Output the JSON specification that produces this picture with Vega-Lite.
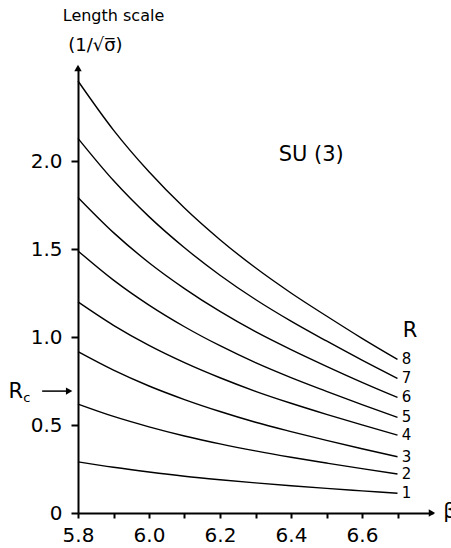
{
  "$schema": "https://vega.github.io/schema/vega-lite/v6.json",
  "width": 355,
  "height": 445,
  "autosize": "none",
  "padding": {"left": 78, "top": 68, "right": 18, "bottom": 35},
  "background": "white",
  "config": {"view": {"stroke": null}, "font": "DejaVu Sans"},
  "datasets": {
    "curves": [
      {"R": 8, "beta": 5.8, "L": 2.456}, {"R": 8, "beta": 5.9, "L": 2.177}, {"R": 8, "beta": 6.0, "L": 1.94}, {"R": 8, "beta": 6.1, "L": 1.734}, {"R": 8, "beta": 6.2, "L": 1.554}, {"R": 8, "beta": 6.3, "L": 1.394}, {"R": 8, "beta": 6.4, "L": 1.251}, {"R": 8, "beta": 6.5, "L": 1.12}, {"R": 8, "beta": 6.6, "L": 0.993}, {"R": 8, "beta": 6.7, "L": 0.873},
      {"R": 7, "beta": 5.8, "L": 2.13}, {"R": 7, "beta": 5.9, "L": 1.89}, {"R": 7, "beta": 6.0, "L": 1.685}, {"R": 7, "beta": 6.1, "L": 1.508}, {"R": 7, "beta": 6.2, "L": 1.352}, {"R": 7, "beta": 6.3, "L": 1.214}, {"R": 7, "beta": 6.4, "L": 1.091}, {"R": 7, "beta": 6.5, "L": 0.978}, {"R": 7, "beta": 6.6, "L": 0.869}, {"R": 7, "beta": 6.7, "L": 0.765},
      {"R": 6, "beta": 5.8, "L": 1.794}, {"R": 6, "beta": 5.9, "L": 1.594}, {"R": 6, "beta": 6.0, "L": 1.423}, {"R": 6, "beta": 6.1, "L": 1.276}, {"R": 6, "beta": 6.2, "L": 1.146}, {"R": 6, "beta": 6.3, "L": 1.031}, {"R": 6, "beta": 6.4, "L": 0.929}, {"R": 6, "beta": 6.5, "L": 0.834}, {"R": 6, "beta": 6.6, "L": 0.743}, {"R": 6, "beta": 6.7, "L": 0.657},
      {"R": 5, "beta": 5.8, "L": 1.49}, {"R": 5, "beta": 5.9, "L": 1.324}, {"R": 5, "beta": 6.0, "L": 1.182}, {"R": 5, "beta": 6.1, "L": 1.059}, {"R": 5, "beta": 6.2, "L": 0.951}, {"R": 5, "beta": 6.3, "L": 0.855}, {"R": 5, "beta": 6.4, "L": 0.77}, {"R": 5, "beta": 6.5, "L": 0.692}, {"R": 5, "beta": 6.6, "L": 0.616}, {"R": 5, "beta": 6.7, "L": 0.544},
      {"R": 4, "beta": 5.8, "L": 1.2}, {"R": 4, "beta": 5.9, "L": 1.067}, {"R": 4, "beta": 6.0, "L": 0.953}, {"R": 4, "beta": 6.1, "L": 0.855}, {"R": 4, "beta": 6.2, "L": 0.769}, {"R": 4, "beta": 6.3, "L": 0.692}, {"R": 4, "beta": 6.4, "L": 0.624}, {"R": 4, "beta": 6.5, "L": 0.561}, {"R": 4, "beta": 6.6, "L": 0.501}, {"R": 4, "beta": 6.7, "L": 0.443},
      {"R": 3, "beta": 5.8, "L": 0.917}, {"R": 3, "beta": 5.9, "L": 0.812}, {"R": 3, "beta": 6.0, "L": 0.722}, {"R": 3, "beta": 6.1, "L": 0.645}, {"R": 3, "beta": 6.2, "L": 0.577}, {"R": 3, "beta": 6.3, "L": 0.516}, {"R": 3, "beta": 6.4, "L": 0.463}, {"R": 3, "beta": 6.5, "L": 0.413}, {"R": 3, "beta": 6.6, "L": 0.365}, {"R": 3, "beta": 6.7, "L": 0.32},
      {"R": 2, "beta": 5.8, "L": 0.619}, {"R": 2, "beta": 5.9, "L": 0.549}, {"R": 2, "beta": 6.0, "L": 0.49}, {"R": 2, "beta": 6.1, "L": 0.438}, {"R": 2, "beta": 6.2, "L": 0.393}, {"R": 2, "beta": 6.3, "L": 0.353}, {"R": 2, "beta": 6.4, "L": 0.317}, {"R": 2, "beta": 6.5, "L": 0.284}, {"R": 2, "beta": 6.6, "L": 0.252}, {"R": 2, "beta": 6.7, "L": 0.222},
      {"R": 1, "beta": 5.8, "L": 0.291}, {"R": 1, "beta": 5.9, "L": 0.26}, {"R": 1, "beta": 6.0, "L": 0.233}, {"R": 1, "beta": 6.1, "L": 0.209}, {"R": 1, "beta": 6.2, "L": 0.189}, {"R": 1, "beta": 6.3, "L": 0.171}, {"R": 1, "beta": 6.4, "L": 0.155}, {"R": 1, "beta": 6.5, "L": 0.14}, {"R": 1, "beta": 6.6, "L": 0.126}, {"R": 1, "beta": 6.7, "L": 0.112}
    ]
  },
  "encoding": {
    "x": {
      "field": "beta", "type": "quantitative",
      "scale": {"domain": [5.8, 6.8], "nice": false, "zero": false},
      "axis": {
        "title": null, "grid": false,
        "values": [5.8, 5.9, 6.0, 6.1, 6.2, 6.3, 6.4, 6.5, 6.6, 6.7],
        "labelExpr": "round(datum.value*10)%2==0 ? format(datum.value,'.1f') : ''",
        "labelFlush": false, "labelOverlap": false, "labelBound": false,
        "tickSize": 5, "tickWidth": 2, "tickColor": "black",
        "domainWidth": 2, "domainColor": "black",
        "labelFontSize": 20, "labelColor": "black", "labelPadding": 7
      }
    },
    "y": {
      "field": "L", "type": "quantitative",
      "scale": {"domain": [0, 2.53], "nice": false},
      "axis": {
        "title": null, "grid": false,
        "values": [0, 0.5, 1, 1.5, 2],
        "labelExpr": "datum.value==0 ? '0' : format(datum.value,'.1f')",
        "labelFlush": false, "labelOverlap": false, "labelBound": false,
        "tickSize": 7, "tickWidth": 2, "tickColor": "black",
        "domainWidth": 2, "domainColor": "black",
        "labelFontSize": 20, "labelColor": "black", "labelPadding": 9
      }
    }
  },
  "layer": [
    {
      "data": {"name": "curves"},
      "mark": {"type": "line", "color": "black", "strokeWidth": 1.4, "interpolate": "monotone"},
      "encoding": {"detail": {"field": "R", "type": "nominal"}}
    },
    {
      "data": {"name": "curves"},
      "transform": [{"filter": "datum.beta == 6.7"}],
      "mark": {"type": "text", "dx": 9, "align": "center", "baseline": "middle", "fontSize": 15, "color": "black"},
      "encoding": {"text": {"field": "R", "type": "nominal"}}
    },
    {
      "data": {"values": [{"beta": 5.9, "L": 2.80, "t": "Length scale"}]},
      "mark": {"type": "text", "align": "center", "baseline": "alphabetic", "fontSize": 16, "color": "black"},
      "encoding": {"text": {"field": "t"}}
    },
    {
      "data": {"values": [{"beta": 5.849, "L": 2.625, "t": "(1/√σ̅)"}]},
      "mark": {"type": "text", "align": "center", "baseline": "alphabetic", "fontSize": 18, "color": "black"},
      "encoding": {"text": {"field": "t"}}
    },
    {
      "data": {"values": [
        {"beta": 6.457, "L": 2.0, "t": "SU (3)"},
        {"beta": 6.735, "L": 1.0, "t": "R"}
      ]},
      "mark": {"type": "text", "align": "center", "baseline": "alphabetic", "fontSize": 21, "color": "black"},
      "encoding": {"text": {"field": "t"}}
    },
    {
      "data": {"values": [
        {"beta": 6.829, "L": -0.028, "t": "β"},
        {"beta": 5.604, "L": 0.653, "t": "R"}
      ]},
      "mark": {"type": "text", "align": "left", "baseline": "alphabetic", "fontSize": 21, "color": "black"},
      "encoding": {"text": {"field": "t"}}
    },
    {
      "data": {"values": [{"beta": 5.646, "L": 0.631, "t": "c"}]},
      "mark": {"type": "text", "align": "left", "baseline": "alphabetic", "fontSize": 13, "color": "black"},
      "encoding": {"text": {"field": "t"}}
    },
    {
      "data": {"values": [{"beta": 5.699, "beta2": 5.775, "L": 0.693}]},
      "mark": {"type": "rule", "color": "black", "strokeWidth": 1.5},
      "encoding": {"x2": {"field": "beta2"}}
    },
    {
      "data": {"values": [{"beta": 5.775, "L": 0.693}, {"beta": 6.797, "L": 0}]},
      "mark": {"type": "point", "shape": "triangle-right", "filled": true, "color": "black", "size": 55, "opacity": 1}
    },
    {
      "data": {"values": [{"beta": 5.8, "L": 2.53}]},
      "mark": {"type": "point", "shape": "triangle-up", "filled": true, "color": "black", "size": 55, "opacity": 1}
    }
  ]
}
